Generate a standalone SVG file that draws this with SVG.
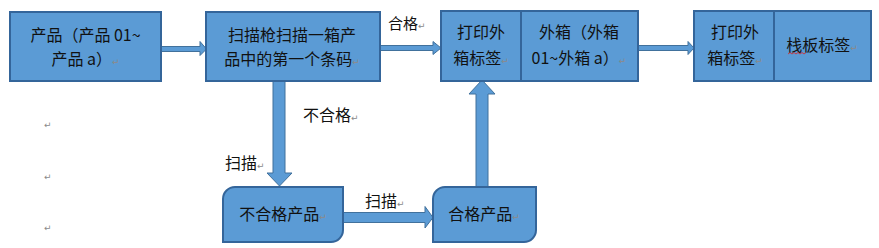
<svg xmlns="http://www.w3.org/2000/svg" width="879" height="248" viewBox="0 0 879 248">
<style>
.box{fill:#5B9BD5;stroke:#34659A;stroke-width:2}
.arr{fill:#5B9BD5;stroke:#41719C;stroke-width:1}
text{font-family:"Noto Sans CJK SC","Noto Sans",sans-serif;font-size:16px;fill:#111}
.c{text-anchor:middle}
.pm{font-family:"DejaVu Sans",sans-serif;font-size:9px;fill:#8a8a8a}
</style>
<rect width="879" height="248" fill="#fff"/>
<g id="connectors">
<polygon class="arr" points="161,46.5 200,46.5 200,41.5 206.5,49 200,55.5 200,51.5 161,51.5"/>
<polygon class="arr" points="380,45.5 433,45.5 433,41.5 441,48 433,54.5 433,50.5 380,50.5"/>
<polygon class="arr" points="638,45.5 688,45.5 688,41.5 694,48 688,54.5 688,50.5 638,50.5"/>
<polygon class="arr" points="273,81 285,81 285,173 292,173 279.5,186 267,173 273,173"/>
<polygon class="arr" points="476,187 488,187 488,94 495,94 482,80 469,94 476,94"/>
<polygon class="arr" points="343,212.5 425,212.5 425,206.5 433,217.5 425,228 425,222.5 343,222.5"/>
</g>
<g id="n1">
<rect class="box" x="10" y="12" width="151" height="69"/>
<text class="c" x="85.5" y="41">产品（产品 01~</text>
<text class="c" x="85.5" y="65">产品 a）<tspan class="pm">↵</tspan></text>
</g>
<g id="n2">
<rect class="box" x="206" y="12" width="174" height="69"/>
<text class="c" x="292" y="41">扫描枪扫描一箱产</text>
<text class="c" x="292" y="65">品中的第一个条码<tspan class="pm">↵</tspan></text>
</g>
<g id="n3">
<rect class="box" x="441" y="11" width="197" height="70"/>
<line x1="521" y1="11" x2="521" y2="81" stroke="#34659A" stroke-width="2"/>
<text class="c" x="481" y="38">打印外</text>
<text class="c" x="481" y="64">箱标签<tspan class="pm">↵</tspan></text>
<text class="c" x="579" y="38">外箱（外箱</text>
<text class="c" x="579" y="64">01~外箱 a）<tspan class="pm">↵</tspan></text>
</g>
<g id="n4">
<rect class="box" x="694" y="11" width="177" height="70"/>
<line x1="774" y1="11" x2="774" y2="81" stroke="#34659A" stroke-width="2"/>
<text class="c" x="735" y="38">打印外</text>
<text class="c" x="735" y="64">箱标签<tspan class="pm">↵</tspan></text>
<text class="c" x="822" y="51">栈板标签<tspan class="pm">↵</tspan></text>
<path d="M788,54 l2,-1.5 l2,1.5 l2,-1.5 l2,1.5 l2,-1.5 l2,1.5 l2,-1.5 l2,1.5 l2,-1.5" fill="none" stroke="#e02020" stroke-width="0.8"/>
</g>
<g id="n5">
<path class="box" d="M235,187 H343 V230 A12,12 0 0 1 331,242 H223 V199 A12,12 0 0 1 235,187 Z"/>
<text class="c" x="283" y="220">不合格产品<tspan class="pm">↵</tspan></text>
</g>
<g id="n6">
<path class="box" d="M445,187 H536 V230 A12,12 0 0 1 524,242 H433 V199 A12,12 0 0 1 445,187 Z"/>
<text class="c" x="484" y="220">合格产品<tspan class="pm">↵</tspan></text>
</g>
<g id="labels">
<text x="388" y="29" style="font-size:15px">合格<tspan class="pm">↵</tspan></text>
<text x="303" y="121">不合格<tspan class="pm">↵</tspan></text>
<text x="225" y="169">扫描<tspan class="pm">↵</tspan></text>
<text x="365" y="207">扫描<tspan class="pm">↵</tspan></text>
<text class="pm" x="44" y="128">↵</text>
<text class="pm" x="44" y="180">↵</text>
<text class="pm" x="44" y="231">↵</text>
</g>
</svg>
